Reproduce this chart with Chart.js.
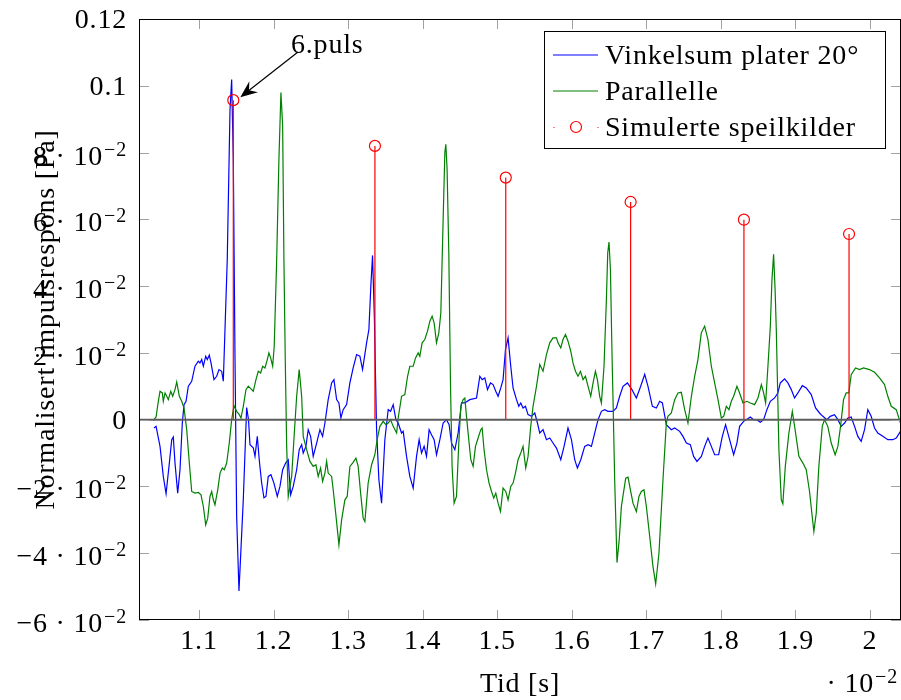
<!DOCTYPE html>
<html>
<head>
<meta charset="utf-8">
<script src="https://cdn.jsdelivr.net/npm/chart.js@4.4.0/dist/chart.umd.min.js"></script>
<style>
  body { margin: 0; background: #fff; }
  canvas { display: block; }
</style>
</head>
<body>
<canvas id="impuls" width="901" height="700"></canvas>
<script>
// Tid i enheter av 10^-2 s, amplitude normalisert

// Vinkelsum plater 20 grader
const tidVinkel = [1.0397, 1.0424, 1.0477, 1.0521, 1.0558, 1.0602, 1.0634, 1.0655, 1.0678, 1.0714,
  1.0745, 1.0776, 1.0799, 1.0826, 1.0857, 1.0902, 1.0946, 1.0991, 1.1013, 1.1036,
  1.1058, 1.1090, 1.1111, 1.1138, 1.1161, 1.1201, 1.1237, 1.1268, 1.1304, 1.1326,
  1.1379, 1.1416, 1.1438, 1.1460, 1.1483, 1.1505, 1.1536, 1.1556, 1.1594, 1.1639,
  1.1664, 1.1684, 1.1728, 1.1751, 1.1782, 1.1808, 1.1840, 1.1871, 1.1898, 1.1929,
  1.1965, 1.2005, 1.2050, 1.2086, 1.2122, 1.2162, 1.2197, 1.2229, 1.2264, 1.2310,
  1.2344, 1.2377, 1.2398, 1.2434, 1.2465, 1.2497, 1.2532, 1.2578, 1.2622, 1.2658,
  1.2689, 1.2733, 1.2779, 1.2810, 1.2846, 1.2877, 1.2903, 1.2934, 1.2980, 1.3024,
  1.3068, 1.3114, 1.3158, 1.3194, 1.3248, 1.3279, 1.3306, 1.3328, 1.3353, 1.3382,
  1.3413, 1.3449, 1.3493, 1.3538, 1.3570, 1.3605, 1.3641, 1.3672, 1.3717, 1.3739,
  1.3784, 1.3828, 1.3873, 1.3918, 1.3953, 1.3985, 1.4020, 1.4052, 1.4087, 1.4119,
  1.4154, 1.4186, 1.4231, 1.4275, 1.4320, 1.4355, 1.4387, 1.4432, 1.4476, 1.4521,
  1.4566, 1.4633, 1.4723, 1.4767, 1.4798, 1.4834, 1.4870, 1.4910, 1.4945, 1.4981,
  1.5012, 1.5048, 1.5079, 1.5111, 1.5146, 1.5182, 1.5213, 1.5259, 1.5290, 1.5316,
  1.5347, 1.5379, 1.5414, 1.5460, 1.5504, 1.5540, 1.5571, 1.5615, 1.5661, 1.5705,
  1.5749, 1.5795, 1.5853, 1.5897, 1.5950, 1.5996, 1.6040, 1.6076, 1.6121, 1.6174,
  1.6219, 1.6264, 1.6308, 1.6353, 1.6398, 1.6442, 1.6487, 1.6554, 1.6599, 1.6643,
  1.6688, 1.6747, 1.6808, 1.6867, 1.6925, 1.6979, 1.7023, 1.7082, 1.7135, 1.7180,
  1.7216, 1.7269, 1.7336, 1.7381, 1.7448, 1.7492, 1.7538, 1.7591, 1.7635, 1.7680,
  1.7739, 1.7783, 1.7827, 1.7873, 1.7917, 1.7971, 1.8020, 1.8064, 1.8118, 1.8172,
  1.8216, 1.8252, 1.8306, 1.8342, 1.8395, 1.8440, 1.8484, 1.8530, 1.8574, 1.8618,
  1.8664, 1.8721, 1.8765, 1.8798, 1.8855, 1.8900, 1.8945, 1.8989, 1.9034, 1.9093,
  1.9146, 1.9213, 1.9271, 1.9324, 1.9369, 1.9422, 1.9468, 1.9525, 1.9570, 1.9615,
  1.9660, 1.9704, 1.9749, 1.9794, 1.9838, 1.9883, 1.9928, 1.9972, 2.0017, 2.0062,
  2.0106, 2.0173, 2.0240, 2.0307, 2.0353, 2.0410];
const vinkelsum = [-0.0025, -0.0020, -0.0080, -0.0170, -0.0222, -0.0130, -0.0060, -0.0052, -0.0130, -0.0220,
  -0.0150, -0.0010, 0.0045, 0.0055, 0.0100, 0.0115, 0.0160, 0.0175, 0.0170, 0.0180,
  0.0160, 0.0190, 0.0180, 0.0193, 0.0170, 0.0120, 0.0130, 0.0150, 0.0145, 0.0115,
  0.0480, 0.0930, 0.1019, 0.0780, 0.0180, -0.0290, -0.0513, -0.0420, -0.0240, 0.0036,
  0.0000, -0.0075, -0.0084, -0.0110, -0.0050, -0.0120, -0.0189, -0.0234, -0.0230, -0.0170,
  -0.0165, -0.0190, -0.0230, -0.0200, -0.0150, -0.0130, -0.0120, -0.0225, -0.0200, -0.0150,
  -0.0090, -0.0075, -0.0100, -0.0080, -0.0030, -0.0050, -0.0110, -0.0070, -0.0030, -0.0050,
  -0.0010, 0.0060, 0.0110, 0.0120, 0.0060, 0.0050, 0.0005, 0.0030, 0.0045, 0.0110,
  0.0155, 0.0195, 0.0190, 0.0150, 0.0230, 0.0270, 0.0405, 0.0492, 0.0300, -0.0030,
  -0.0180, -0.0250, -0.0060, 0.0030, 0.0025, 0.0045, 0.0000, -0.0010, -0.0040, -0.0035,
  -0.0110, -0.0170, -0.0205, -0.0110, -0.0060, -0.0100, -0.0080, -0.0110, -0.0030, -0.0045,
  -0.0060, -0.0105, -0.0060, -0.0010, 0.0000, -0.0015, -0.0070, -0.0090, -0.0040, 0.0050,
  0.0050, 0.0060, 0.0065, 0.0130, 0.0120, 0.0125, 0.0090, 0.0110, 0.0105, 0.0085,
  0.0070, 0.0095, 0.0120, 0.0210, 0.0245, 0.0160, 0.0095, 0.0060, 0.0040, 0.0050,
  0.0035, 0.0040, 0.0015, 0.0010, 0.0020, -0.0010, -0.0040, -0.0030, -0.0060, -0.0055,
  -0.0070, -0.0085, -0.0120, -0.0080, -0.0025, -0.0060, -0.0120, -0.0145, -0.0120, -0.0080,
  -0.0075, -0.0080, -0.0040, 0.0000, 0.0025, 0.0030, 0.0025, 0.0025, 0.0035, 0.0070,
  0.0100, 0.0110, 0.0090, 0.0065, 0.0100, 0.0136, 0.0100, 0.0040, 0.0035, 0.0055,
  0.0050, -0.0015, -0.0030, -0.0025, -0.0035, -0.0050, -0.0070, -0.0075, -0.0110, -0.0125,
  -0.0110, -0.0080, -0.0055, -0.0080, -0.0105, -0.0105, -0.0050, -0.0015, -0.0060, -0.0105,
  -0.0070, -0.0020, -0.0005, 0.0000, 0.0008, 0.0000, 0.0000, -0.0008, 0.0000, 0.0030,
  0.0055, 0.0065, 0.0080, 0.0110, 0.0122, 0.0110, 0.0090, 0.0065, 0.0080, 0.0102,
  0.0095, 0.0075, 0.0035, 0.0020, 0.0010, 0.0000, 0.0010, 0.0015, 0.0000, -0.0020,
  -0.0010, 0.0005, 0.0008, -0.0020, -0.0050, -0.0065, -0.0030, 0.0030, 0.0010, -0.0025,
  -0.0040, -0.0050, -0.0060, -0.0060, -0.0055, -0.0035];

// Parallelle plater
const tidParallell = [1.0387, 1.0424, 1.0454, 1.0477, 1.0508, 1.0521, 1.0544, 1.0567, 1.0588, 1.0621,
  1.0647, 1.0678, 1.0701, 1.0736, 1.0768, 1.0799, 1.0835, 1.0870, 1.0902, 1.0946,
  1.0991, 1.1027, 1.1058, 1.1090, 1.1117, 1.1147, 1.1170, 1.1192, 1.1214, 1.1251,
  1.1282, 1.1312, 1.1339, 1.1371, 1.1406, 1.1438, 1.1469, 1.1505, 1.1540, 1.1563,
  1.1594, 1.1630, 1.1661, 1.1697, 1.1728, 1.1764, 1.1795, 1.1827, 1.1854, 1.1885,
  1.1916, 1.1938, 1.1961, 1.1988, 1.2009, 1.2042, 1.2072, 1.2099, 1.2122, 1.2139,
  1.2157, 1.2176, 1.2197, 1.2243, 1.2273, 1.2310, 1.2344, 1.2377, 1.2398, 1.2444,
  1.2488, 1.2532, 1.2568, 1.2599, 1.2631, 1.2658, 1.2689, 1.2712, 1.2733, 1.2779,
  1.2800, 1.2836, 1.2877, 1.2913, 1.2957, 1.2988, 1.3024, 1.3060, 1.3105, 1.3135,
  1.3168, 1.3202, 1.3225, 1.3269, 1.3315, 1.3359, 1.3390, 1.3426, 1.3471, 1.3507,
  1.3538, 1.3570, 1.3605, 1.3651, 1.3672, 1.3717, 1.3761, 1.3798, 1.3828, 1.3873,
  1.3905, 1.3940, 1.3962, 1.3993, 1.4029, 1.4065, 1.4097, 1.4127, 1.4154, 1.4186,
  1.4217, 1.4244, 1.4275, 1.4298, 1.4311, 1.4328, 1.4351, 1.4374, 1.4395, 1.4422,
  1.4454, 1.4485, 1.4512, 1.4543, 1.4566, 1.4588, 1.4619, 1.4646, 1.4677, 1.4709,
  1.4744, 1.4780, 1.4798, 1.4824, 1.4857, 1.4891, 1.4924, 1.4954, 1.4981, 1.5012,
  1.5044, 1.5079, 1.5115, 1.5146, 1.5182, 1.5213, 1.5245, 1.5280, 1.5316, 1.5347,
  1.5383, 1.5414, 1.5450, 1.5481, 1.5527, 1.5571, 1.5615, 1.5661, 1.5705, 1.5749,
  1.5795, 1.5816, 1.5853, 1.5883, 1.5916, 1.5950, 1.5987, 1.6017, 1.6050, 1.6084,
  1.6117, 1.6152, 1.6184, 1.6219, 1.6255, 1.6286, 1.6318, 1.6344, 1.6375, 1.6398,
  1.6433, 1.6465, 1.6483, 1.6500, 1.6519, 1.6540, 1.6554, 1.6576, 1.6607, 1.6637,
  1.6666, 1.6724, 1.6755, 1.6787, 1.6822, 1.6867, 1.6902, 1.6934, 1.6969, 1.7001,
  1.7046, 1.7090, 1.7126, 1.7170, 1.7224, 1.7269, 1.7290, 1.7336, 1.7381, 1.7425,
  1.7470, 1.7515, 1.7559, 1.7605, 1.7649, 1.7693, 1.7738, 1.7783, 1.7827, 1.7873,
  1.7917, 1.7962, 1.8007, 1.8038, 1.8074, 1.8109, 1.8141, 1.8172, 1.8216, 1.8252,
  1.8297, 1.8350, 1.8396, 1.8453, 1.8498, 1.8544, 1.8574, 1.8601, 1.8632, 1.8664,
  1.8686, 1.8708, 1.8728, 1.8744, 1.8759, 1.8779, 1.8811, 1.8832, 1.8865, 1.8913,
  1.8959, 1.9003, 1.9047, 1.9101, 1.9146, 1.9190, 1.9226, 1.9248, 1.9280, 1.9315,
  1.9361, 1.9391, 1.9435, 1.9481, 1.9534, 1.9570, 1.9606, 1.9646, 1.9682, 1.9717,
  1.9749, 1.9807, 1.9861, 1.9914, 1.9995, 2.0062, 2.0129, 2.0196, 2.0240, 2.0286,
  2.0353, 2.0410];
const parallelle = [-0.0002, 0.0008, 0.0055, 0.0085, 0.0080, 0.0055, 0.0080, 0.0070, 0.0060, 0.0085,
  0.0070, 0.0090, 0.0113, 0.0070, 0.0055, 0.0035, -0.0030, -0.0130, -0.0215, -0.0220,
  -0.0218, -0.0225, -0.0260, -0.0315, -0.0295, -0.0230, -0.0215, -0.0240, -0.0255, -0.0210,
  -0.0160, -0.0145, -0.0150, -0.0130, -0.0070, 0.0000, 0.0042, 0.0025, 0.0015, 0.0005,
  0.0040, 0.0090, 0.0100, 0.0092, 0.0085, 0.0120, 0.0145, 0.0140, 0.0160, 0.0155,
  0.0180, 0.0200, 0.0185, 0.0160, 0.0220, 0.0480, 0.0780, 0.0980, 0.0880, 0.0480,
  0.0180, -0.0080, -0.0230, -0.0170, -0.0060, 0.0070, 0.0150, 0.0070, -0.0050, -0.0090,
  -0.0125, -0.0140, -0.0135, -0.0170, -0.0145, -0.0185, -0.0160, -0.0125, -0.0160, -0.0170,
  -0.0210, -0.0285, -0.0375, -0.0300, -0.0240, -0.0230, -0.0140, -0.0130, -0.0115, -0.0140,
  -0.0220, -0.0295, -0.0305, -0.0190, -0.0135, -0.0105, -0.0060, -0.0020, -0.0005, -0.0015,
  -0.0010, 0.0000, -0.0020, -0.0040, 0.0005, 0.0070, 0.0075, 0.0130, 0.0160, 0.0160,
  0.0185, 0.0200, 0.0190, 0.0230, 0.0240, 0.0265, 0.0295, 0.0310, 0.0290, 0.0230,
  0.0260, 0.0320, 0.0600, 0.0800, 0.0825, 0.0750, 0.0500, 0.0100, -0.0140, -0.0250,
  -0.0230, -0.0070, 0.0040, 0.0060, 0.0065, 0.0010, -0.0060, -0.0120, -0.0140, -0.0080,
  -0.0055, -0.0030, -0.0025, -0.0090, -0.0150, -0.0190, -0.0215, -0.0235, -0.0220, -0.0250,
  -0.0275, -0.0205, -0.0215, -0.0240, -0.0200, -0.0190, -0.0160, -0.0120, -0.0100, -0.0080,
  -0.0145, -0.0110, -0.0020, 0.0040, 0.0100, 0.0165, 0.0145, 0.0195, 0.0230, 0.0245,
  0.0245, 0.0230, 0.0215, 0.0240, 0.0255, 0.0235, 0.0205, 0.0170, 0.0145, 0.0130,
  0.0145, 0.0120, 0.0130, 0.0100, 0.0070, 0.0110, 0.0145, 0.0120, 0.0070, 0.0050,
  0.0160, 0.0360, 0.0500, 0.0532, 0.0450, 0.0200, 0.0060, -0.0180, -0.0428, -0.0360,
  -0.0260, -0.0175, -0.0172, -0.0210, -0.0250, -0.0275, -0.0230, -0.0215, -0.0210, -0.0260,
  -0.0350, -0.0440, -0.0492, -0.0400, -0.0180, -0.0010, 0.0010, 0.0020, 0.0060, 0.0080,
  0.0082, 0.0030, -0.0010, 0.0070, 0.0130, 0.0180, 0.0260, 0.0280, 0.0240, 0.0160,
  0.0110, 0.0060, 0.0005, 0.0010, 0.0040, 0.0030, 0.0055, 0.0070, 0.0100, 0.0080,
  0.0050, 0.0055, 0.0050, 0.0045, 0.0065, 0.0105, 0.0080, 0.0050, 0.0160, 0.0280,
  0.0420, 0.0495, 0.0390, 0.0270, 0.0120, -0.0090, -0.0240, -0.0252, -0.0140, -0.0040,
  0.0025, -0.0040, -0.0110, -0.0130, -0.0150, -0.0215, -0.0290, -0.0335, -0.0280, -0.0140,
  -0.0020, 0.0000, -0.0020, -0.0070, -0.0105, -0.0080, -0.0020, 0.0060, 0.0080, 0.0080,
  0.0135, 0.0155, 0.0150, 0.0155, 0.0150, 0.0142, 0.0125, 0.0105, 0.0070, 0.0040,
  0.0030, -0.0010];

// Simulerte speilkilder (tid og amplitude)
const speilTid = [1.146, 1.336, 1.5115, 1.679, 1.831, 1.972];
const speilAmp = [0.0957, 0.0820, 0.0725, 0.0652, 0.0599, 0.0556];

// Akseinndeling
const xTicks = [1.1, 1.2, 1.3, 1.4, 1.5, 1.6, 1.7, 1.8, 1.9, 2.0];
const xTickLabels = ['1.1', '1.2', '1.3', '1.4', '1.5', '1.6', '1.7', '1.8', '1.9', '2'];
const yTicks = [-0.06, -0.04, -0.02, 0, 0.02, 0.04, 0.06, 0.08, 0.1, 0.12];
const yTickLabels = ['\u22126 \u00b7 10^\u22122', '\u22124 \u00b7 10^\u22122', '\u22122 \u00b7 10^\u22122', '0',
  '2 \u00b7 10^\u22122', '4 \u00b7 10^\u22122', '6 \u00b7 10^\u22122', '8 \u00b7 10^\u22122', '0.1', '0.12'];

const FONT = '"Liberation Serif", "DejaVu Serif", serif';
const SIZE = 28;

function setFont(ctx, size) {
  ctx.font = size + 'px ' + FONT;
  ctx.letterSpacing = '0.8px';
}

// tekst med eventuell eksponent etter '^'
function drawText(ctx, text, x, y, align, size) {
  const [base, sup] = text.split('^');
  const supSize = Math.round(size * 0.7);
  setFont(ctx, size);
  const wb = ctx.measureText(base).width;
  let ws = 0;
  if (sup) { setFont(ctx, supSize); ws = ctx.measureText(sup).width + 1; }
  let left = x;
  if (align === 'right') left = x - wb - ws;
  if (align === 'center') left = x - (wb + ws) / 2;
  ctx.textAlign = 'left';
  ctx.textBaseline = 'alphabetic';
  setFont(ctx, size);
  ctx.fillText(base, left, y);
  if (sup) {
    setFont(ctx, supSize);
    ctx.fillText(sup, left + wb + 1, y - 9);
  }
}

const stemData = [];
speilTid.forEach((t, i) => {
  stemData.push({ x: t, y: 0 }, { x: t, y: speilAmp[i] }, { x: t, y: null });
});

const rammePlugin = {
  id: 'ramme',
  afterDatasetsDraw(chart) {
    const { ctx, chartArea: a, scales: { x, y } } = chart;
    ctx.save();

    // nullinje
    const y0 = y.getPixelForValue(0);
    ctx.strokeStyle = '#5c5c5c';
    ctx.lineWidth = 2;
    ctx.beginPath();
    ctx.moveTo(a.left, y0);
    ctx.lineTo(a.right, y0);
    ctx.stroke();

    // innovervendte tick-merker
    ctx.strokeStyle = '#a0a0a0';
    ctx.lineWidth = 1;
    ctx.beginPath();
    xTicks.forEach(v => {
      const px = Math.round(x.getPixelForValue(v)) + 0.5;
      ctx.moveTo(px, a.bottom); ctx.lineTo(px, a.bottom - 10);
      ctx.moveTo(px, a.top); ctx.lineTo(px, a.top + 10);
    });
    yTicks.forEach(v => {
      const py = Math.round(y.getPixelForValue(v)) + 0.5;
      ctx.moveTo(a.left, py); ctx.lineTo(a.left + 10, py);
      ctx.moveTo(a.right, py); ctx.lineTo(a.right - 10, py);
    });
    ctx.stroke();

    // ramme
    ctx.strokeStyle = '#000';
    ctx.strokeRect(a.left + 0.5, a.top + 0.5, a.right - a.left - 1, a.bottom - a.top - 1);
    ctx.restore();
  },
  afterDraw(chart) {
    const { ctx, chartArea: a, scales: { x, y } } = chart;
    ctx.save();
    ctx.fillStyle = '#000';

    // tall på aksene
    xTicks.forEach((v, i) => {
      drawText(ctx, xTickLabels[i], x.getPixelForValue(v), 649, 'center', SIZE);
    });
    yTicks.forEach((v, i) => {
      const py = y.getPixelForValue(v);
      const lab = yTickLabels[i];
      drawText(ctx, lab, 127, py + (lab.includes('^') ? 12 : 9), 'right', SIZE);
    });
    drawText(ctx, '\u00b7 10^\u22122', 898, 692, 'right', SIZE);

    // aksetitler
    drawText(ctx, 'Tid [s]', 520, 692, 'center', SIZE);
    ctx.save();
    ctx.translate(54, (a.top + a.bottom) / 2);
    ctx.rotate(-Math.PI / 2);
    drawText(ctx, 'Normalisert impulsrespons [Pa]', 0, 0, 'center', SIZE);
    ctx.restore();

    // merknad med pil
    drawText(ctx, '6.puls', 291, 53, 'left', SIZE);
    const tip = { x: x.getPixelForValue(speilTid[0]) + 7, y: y.getPixelForValue(speilAmp[0]) - 3 };
    const start = { x: 298, y: 52 };
    const dx = tip.x - start.x, dy = tip.y - start.y;
    const len = Math.hypot(dx, dy);
    const ux = dx / len, uy = dy / len;
    ctx.strokeStyle = '#000';
    ctx.lineWidth = 1.2;
    ctx.beginPath();
    ctx.moveTo(start.x, start.y);
    ctx.lineTo(tip.x - ux * 8, tip.y - uy * 8);
    ctx.stroke();
    ctx.beginPath();
    ctx.moveTo(tip.x, tip.y);
    ctx.lineTo(tip.x - ux * 17 - uy * 7, tip.y - uy * 17 + ux * 7);
    ctx.lineTo(tip.x - ux * 11, tip.y - uy * 11);
    ctx.lineTo(tip.x - ux * 17 + uy * 7, tip.y - uy * 17 - ux * 7);
    ctx.closePath();
    ctx.fill();

    // tegnforklaring
    ctx.fillStyle = '#fff';
    ctx.fillRect(545, 32, 340, 116);
    ctx.strokeStyle = '#000';
    ctx.lineWidth = 1;
    ctx.strokeRect(544.5, 31.5, 341, 117);
    const rows = [55, 91, 127];
    ctx.lineWidth = 1.2;
    ctx.strokeStyle = '#0000ff';
    ctx.beginPath(); ctx.moveTo(553, rows[0]); ctx.lineTo(598, rows[0]); ctx.stroke();
    ctx.strokeStyle = '#008000';
    ctx.beginPath(); ctx.moveTo(553, rows[1]); ctx.lineTo(598, rows[1]); ctx.stroke();
    ctx.fillStyle = '#ff0000';
    ctx.fillRect(553.5, rows[2], 1, 1);
    ctx.fillRect(597.5, rows[2], 1, 1);
    ctx.strokeStyle = '#ff0000';
    ctx.beginPath(); ctx.arc(576, rows[2], 5.5, 0, Math.PI * 2); ctx.stroke();
    ctx.fillStyle = '#000';
    drawText(ctx, 'Vinkelsum plater 20\u00b0', 605, rows[0] + 9, 'left', SIZE);
    drawText(ctx, 'Parallelle', 605, rows[1] + 9, 'left', SIZE);
    drawText(ctx, 'Simulerte speilkilder', 605, rows[2] + 9, 'left', SIZE);
    ctx.restore();
  }
};

const ctx = document.getElementById('impuls').getContext('2d');
new Chart(ctx, {
  type: 'line',
  data: {
    datasets: [
      {
        label: 'Vinkelsum plater 20\u00b0',
        data: tidVinkel.map((t, i) => ({ x: t, y: vinkelsum[i] })),
        borderColor: '#0000ff',
        borderWidth: 1.2,
        pointRadius: 0,
        order: 3
      },
      {
        label: 'Parallelle',
        data: tidParallell.map((t, i) => ({ x: t, y: parallelle[i] })),
        borderColor: '#008000',
        borderWidth: 1.2,
        pointRadius: 0,
        order: 2
      },
      {
        label: 'stolper',
        data: stemData,
        borderColor: '#ff0000',
        borderWidth: 1.2,
        pointRadius: 0,
        spanGaps: false,
        order: 1
      },
      {
        label: 'Simulerte speilkilder',
        type: 'scatter',
        data: speilTid.map((t, i) => ({ x: t, y: speilAmp[i] })),
        borderColor: '#ff0000',
        backgroundColor: 'rgba(0,0,0,0)',
        borderWidth: 1.2,
        pointStyle: 'circle',
        pointRadius: 5.5,
        order: 0
      }
    ]
  },
  options: {
    responsive: false,
    animation: false,
    layout: { autoPadding: false, padding: { left: 139, top: 19, right: 0, bottom: 80 } },
    scales: {
      x: { type: 'linear', min: 1.0195, max: 2.0417, display: false },
      y: { type: 'linear', min: -0.06, max: 0.12, display: false }
    },
    plugins: {
      legend: { display: false },
      tooltip: { enabled: false }
    }
  },
  plugins: [rammePlugin]
});
</script>
</body>
</html>
